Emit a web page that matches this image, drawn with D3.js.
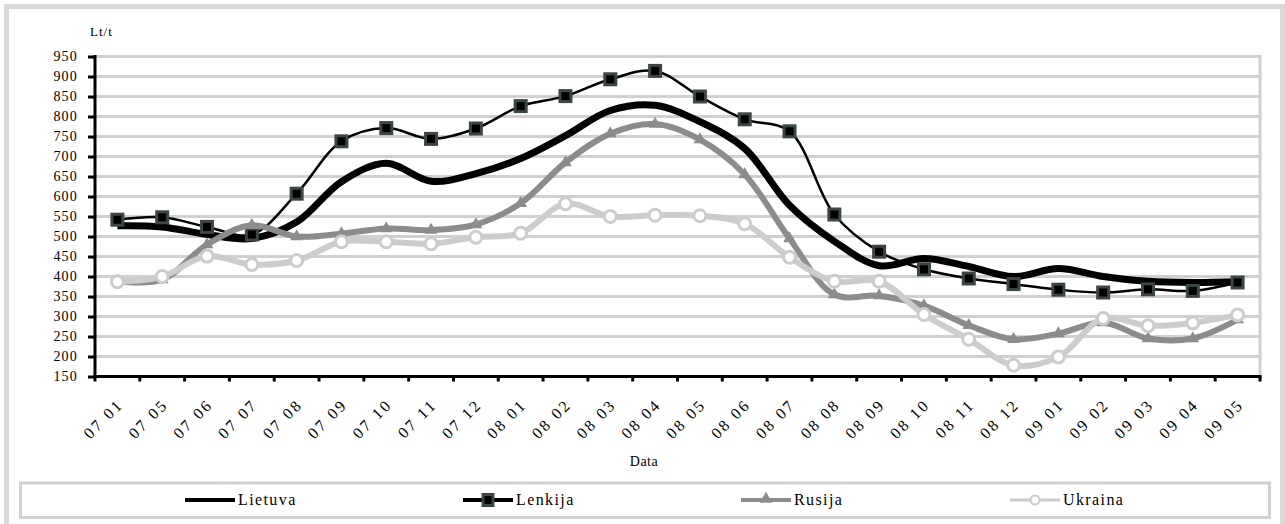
<!DOCTYPE html>
<html>
<head>
<meta charset="utf-8">
<script src="https://cdn.jsdelivr.net/npm/d3@7"></script>
<style>
  html, body { margin: 0; padding: 0; background: #fff; }
  svg { display: block; }
  text { font-family: "Liberation Serif", "Times New Roman", serif; fill: #000; }
</style>
</head>
<body>
<svg id="chart" width="1285" height="524"></svg>
<script>
const categories = ["07 01","07 05","07 06","07 07","07 08","07 09","07 10","07 11","07 12",
  "08 01","08 02","08 03","08 04","08 05","08 06","08 07","08 08","08 09","08 10","08 11","08 12",
  "09 01","09 02","09 03","09 04","09 05"];
const lietuva = [527,524,505,495,536,637,683,638,657,695,752,815,828,787,720,578,488,427,445,425,400,420,400,388,385,387];
const lenkija = [542,548,524,505,607,738,771,744,770,826,851,893,914,850,793,763,555,462,418,395,381,367,360,368,364,385];
const rusija  = [388,392,480,528,500,507,520,516,530,583,685,757,781,742,655,495,355,352,327,278,243,257,285,245,245,292];
const ukraina = [387,400,451,430,440,487,487,482,498,508,582,550,553,552,532,448,388,388,305,243,178,199,295,277,284,304];
const yTicks = [150,200,250,300,350,400,450,500,550,600,650,700,750,800,850,900,950];
const seriesNames = ["Lietuva","Lenkija","Rusija","Ukraina"];

const svg = d3.select("#chart");
const X0 = 95, X1 = 1260, Y0 = 376.5, Y1 = 56.5;
const x = d3.scaleBand().domain(categories).range([X0, X1]);
const y = d3.scaleLinear().domain([150, 950]).range([Y0, Y1]);
const cx = c => x(c) + x.bandwidth() / 2;

// outer frame
svg.append("rect").attr("x", 6.5).attr("y", 6.5).attr("width", 1276).attr("height", 530)
  .attr("fill", "none").attr("stroke", "#d9d9d9").attr("stroke-width", 5);

// gridlines
svg.append("g").selectAll("line").data(yTicks).join("line")
  .attr("x1", X0).attr("x2", X1 + 1.5).attr("y1", d => y(d)).attr("y2", d => y(d))
  .attr("stroke", "#d0d0d0").attr("stroke-width", 3);
svg.append("line").attr("x1", X1).attr("x2", X1).attr("y1", Y1 - 1.5).attr("y2", Y0)
  .attr("stroke", "#d0d0d0").attr("stroke-width", 3);

// Y axis
const yAxis = svg.append("g").attr("transform", `translate(${X0},0)`)
  .call(d3.axisLeft(y).tickValues(yTicks).tickSize(7).tickPadding(10).tickFormat(d3.format("d")));
yAxis.select(".domain").remove();
yAxis.selectAll(".tick line").attr("stroke", "#000").attr("stroke-width", 3);
yAxis.selectAll(".tick text").attr("font-size", 14).style("letter-spacing", "1.2px")
  .attr("font-family", "Liberation Serif");
svg.append("line").attr("x1", X0).attr("x2", X0).attr("y1", Y1 - 1.5).attr("y2", Y0 + 1.5)
  .attr("stroke", "#000").attr("stroke-width", 3);

// X axis
const xAxis = svg.append("g").attr("transform", `translate(0,${Y0})`)
  .call(d3.axisBottom(x).tickSize(0).tickPadding(0));
xAxis.select(".domain").remove();
xAxis.selectAll(".tick text")
  .attr("font-size", 16).style("letter-spacing", "2.5px").attr("font-family", "Liberation Serif")
  .attr("text-anchor", "end").attr("dy", "0.35em")
  .attr("transform", "translate(3,25) rotate(-45)");
const bounds = categories.map(c => x(c)).concat([X1]);
svg.append("g").selectAll("line").data(bounds).join("line")
  .attr("x1", d => d).attr("x2", d => d).attr("y1", Y0).attr("y2", Y0 + 5)
  .attr("stroke", "#000").attr("stroke-width", 3);
svg.append("line").attr("x1", X0 - 1.5).attr("x2", X1 + 1.5).attr("y1", Y0).attr("y2", Y0)
  .attr("stroke", "#000").attr("stroke-width", 3);

// axis titles
svg.append("text").attr("x", 90).attr("y", 36).attr("font-size", 13)
  .style("letter-spacing", "1px").text("Lt/t");
svg.append("text").attr("x", 644).attr("y", 466).attr("text-anchor", "middle")
  .attr("font-size", 14).style("letter-spacing", "0.5px").text("Data");

// lines
const line = d3.line().x((d, i) => cx(categories[i])).y(d => y(d)).curve(d3.curveCatmullRom.alpha(0.5));
const plot = svg.append("g");
plot.append("path").datum(lietuva).attr("d", line).attr("fill", "none")
  .attr("stroke", "#000").attr("stroke-width", 7).attr("stroke-linejoin", "round");
plot.append("path").datum(lenkija).attr("d", line).attr("fill", "none")
  .attr("stroke", "#000").attr("stroke-width", 2.5);
plot.append("g").selectAll("rect").data(lenkija).join("rect")
  .attr("x", (d, i) => cx(categories[i]) - 5.5).attr("y", d => y(d) - 5.5)
  .attr("width", 11).attr("height", 11).attr("fill", "#000")
  .attr("stroke", "#3d4646").attr("stroke-width", 3);
plot.append("path").datum(rusija).attr("d", line).attr("fill", "none")
  .attr("stroke", "#8c8c8c").attr("stroke-width", 6).attr("stroke-linejoin", "round");
const tri = d3.symbol().type(d3.symbolTriangle).size(70);
plot.append("g").selectAll("path").data(rusija).join("path")
  .attr("d", tri).attr("transform", (d, i) => `translate(${cx(categories[i])},${y(d)})`)
  .attr("fill", "#8c8c8c");
plot.append("path").datum(ukraina).attr("d", line).attr("fill", "none")
  .attr("stroke", "#cccccc").attr("stroke-width", 6).attr("stroke-linejoin", "round");
plot.append("g").selectAll("circle").data(ukraina).join("circle")
  .attr("cx", (d, i) => cx(categories[i])).attr("cy", d => y(d)).attr("r", 6)
  .attr("fill", "#fff").attr("stroke", "#cccccc").attr("stroke-width", 3);

// legend
svg.append("rect").attr("x", 20.5).attr("y", 483).attr("width", 1249).attr("height", 34.5)
  .attr("fill", "#fff").attr("stroke", "#d0d0d0").attr("stroke-width", 3);
const legendX = [185, 463, 741, 1010];
const lg = svg.append("g").selectAll("g").data(seriesNames).join("g")
  .attr("transform", (d, i) => `translate(${legendX[i]},500)`);
lg.each(function(d, i) {
  const g = d3.select(this);
  if (i === 0) {
    g.append("line").attr("x1", 0).attr("x2", 50).attr("stroke", "#000").attr("stroke-width", 4);
  } else if (i === 1) {
    g.append("line").attr("x1", 0).attr("x2", 50).attr("stroke", "#000").attr("stroke-width", 4);
    g.append("rect").attr("x", 20).attr("y", -5.5).attr("width", 10).attr("height", 11)
      .attr("fill", "#000").attr("stroke", "#3d4646").attr("stroke-width", 3);
  } else if (i === 2) {
    g.append("line").attr("x1", 0).attr("x2", 50).attr("stroke", "#8c8c8c").attr("stroke-width", 4);
    g.append("path").attr("d", tri).attr("transform", "translate(25,-1)").attr("fill", "#8c8c8c");
  } else {
    g.append("line").attr("x1", 0).attr("x2", 50).attr("stroke", "#cccccc").attr("stroke-width", 3);
    g.append("circle").attr("cx", 25).attr("cy", 0).attr("r", 4.5)
      .attr("fill", "#fff").attr("stroke", "#cccccc").attr("stroke-width", 2);
  }
  g.append("text").attr("x", 53).attr("y", 5).attr("font-size", 16)
    .style("letter-spacing", "1.4px").text(d);
});
</script>
</body>
</html>
